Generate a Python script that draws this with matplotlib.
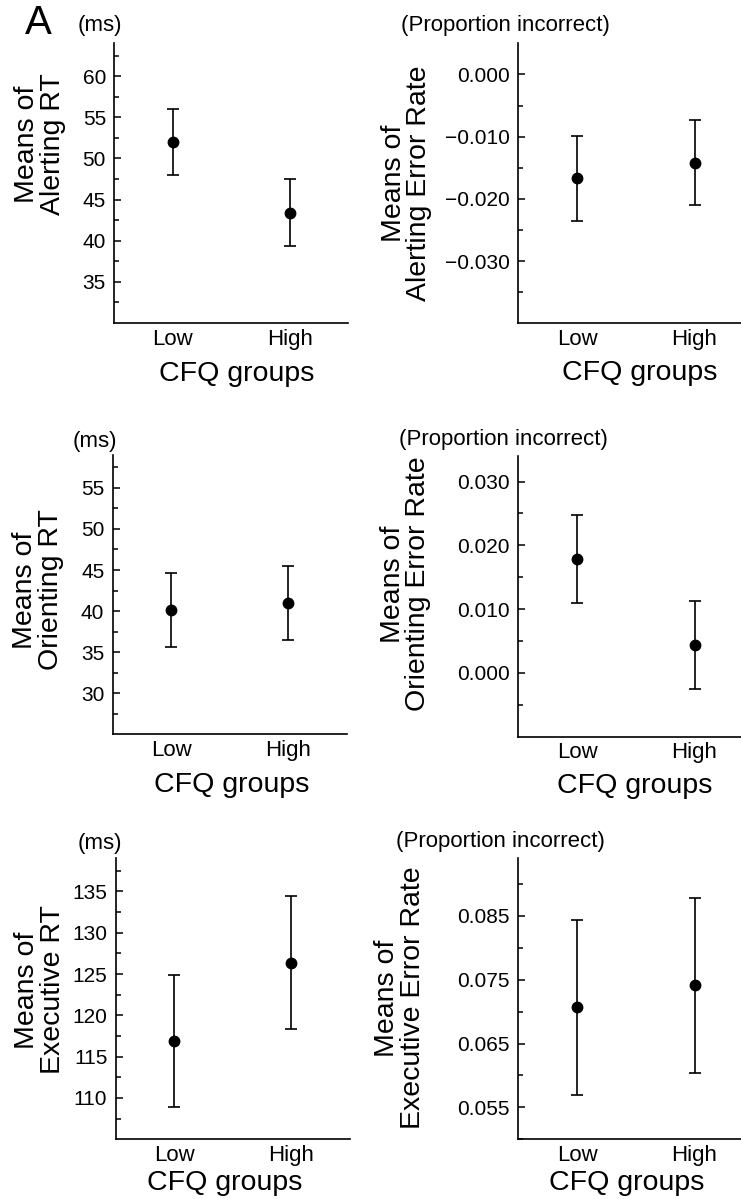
import numpy as np
import matplotlib
matplotlib.use("Agg")
import matplotlib.pyplot as plt

plt.rcParams['font.family'] = ['Liberation Sans', 'DejaVu Sans']

groups = ["Low", "High"]

# means and error bar half-widths per measure
alert_rt = [52.0, 43.4]
alert_rt_err = [4.05, 4.05]
alert_err = [-0.0167, -0.0142]
alert_err_err = [0.0068, 0.0068]
orient_rt = [40.1, 41.0]
orient_rt_err = [4.5, 4.5]
orient_err = [0.0178, 0.0044]
orient_err_err = [0.0069, 0.0069]
exec_rt = [116.9, 126.35]
exec_rt_err = [8.0, 8.05]
exec_err = [0.0707, 0.0741]
exec_err_err = [0.0137, 0.0137]

W, H = 741, 1199
fig = plt.figure(figsize=(W / 100, H / 100), dpi=100)


def make_axes(left, top, right, bottom):
    return fig.add_axes([left / W, 1 - bottom / H, (right - left) / W, (bottom - top) / H])


def fig_xy(x, y):
    return x / W, 1 - y / H


panels = [
    # axes box (px), data, ylim, major ticks, tick format, unit text, ylabel
    dict(box=(114.3, 43.3, 348, 323), y=alert_rt, e=alert_rt_err, ylim=(30, 64),
         major=[35, 40, 45, 50, 55, 60], step=2.5, fmt="%d",
         unit="(ms)", unit_xy=(99.5, 25), label="Means of\nAlerting RT",
         label_xy=(40, 144), xlab_xy=(237, 380.7)),
    dict(box=(518.3, 43.3, 753.3, 323.3), y=alert_err, e=alert_err_err, ylim=(-0.040, 0.005),
         major=[-0.03, -0.02, -0.01, 0.0], step=0.005, fmt="%.3f",
         unit="(Proportion incorrect)", unit_xy=(505, 25), label="Means of\nAlerting Error Rate",
         label_xy=(406.5, 183), xlab_xy=(640, 380)),
    dict(box=(112.7, 455, 346.7, 734.3), y=orient_rt, e=orient_rt_err, ylim=(25, 59),
         major=[30, 35, 40, 45, 50, 55], step=2.5, fmt="%d",
         unit="(ms)", unit_xy=(94.5, 441), label="Means of\nOrienting RT",
         label_xy=(38, 590), xlab_xy=(231.7, 791.7)),
    dict(box=(518.3, 456, 753.3, 736.7), y=orient_err, e=orient_err_err, ylim=(-0.010, 0.034),
         major=[0.0, 0.01, 0.02, 0.03], step=0.005, fmt="%.3f",
         unit="(Proportion incorrect)", unit_xy=(503.5, 440), label="Means of\nOrienting Error Rate",
         label_xy=(405, 584), xlab_xy=(635, 793)),
    dict(box=(115.7, 858.3, 350, 1139.3), y=exec_rt, e=exec_rt_err, ylim=(105, 139),
         major=[110, 115, 120, 125, 130, 135], step=2.5, fmt="%d",
         unit="(ms)", unit_xy=(99.5, 844), label="Means of\nExecutive RT",
         label_xy=(40, 990), xlab_xy=(225, 1190)),
    dict(box=(518.3, 858.3, 753.3, 1139.3), y=exec_err, e=exec_err_err, ylim=(0.050, 0.094),
         major=[0.055, 0.065, 0.075, 0.085], step=0.005, fmt="%.3f",
         unit="(Proportion incorrect)", unit_xy=(500.5, 842), label="Means of\nExecutive Error Rate",
         label_xy=(400, 998), xlab_xy=(626.7, 1190)),
]

for p in panels:
    ax = make_axes(*p["box"])
    x = np.arange(len(groups))
    ax.errorbar(x, p["y"], yerr=p["e"], fmt="o", color="black", ms=7.5,
                elinewidth=1.2, capsize=4.5, capthick=1.2)
    ax.set_xlim(-0.5, 1.5)
    ax.set_ylim(*p["ylim"])
    ax.set_xticks(x)
    ax.set_xticklabels(groups, fontsize=16)
    ax.set_yticks(p["major"])
    ax.set_yticklabels([(p["fmt"] % v).replace("-", "\u2212") for v in p["major"]], fontsize=15)
    lo, hi = p["ylim"]
    minor = np.arange(p["major"][0] - p["step"], hi + 1e-9, p["step"] * 2)
    ax.set_yticks([m for m in minor if lo <= m <= hi], minor=True)
    ax.tick_params(axis="y", which="major", direction="in", length=5.3, width=1.1, pad=6)
    ax.tick_params(axis="y", which="minor", direction="in", length=3.4, width=1.1)
    ax.tick_params(axis="x", length=0, pad=4)
    for s in ["top", "right"]:
        ax.spines[s].set_visible(False)
    for s in ["left", "bottom"]:
        ax.spines[s].set_linewidth(1.2)
    ax.patch.set_alpha(0)

    fig.text(*fig_xy(*p["unit_xy"]), p["unit"], fontsize=16, ha="center", va="center")
    fig.text(*fig_xy(*p["label_xy"]), p["label"], fontsize=20.5, rotation=90,
             ha="center", va="center", multialignment="center", linespacing=0.95)
    fig.text(*fig_xy(*p["xlab_xy"]), "CFQ groups", fontsize=20.5, ha="center", va="baseline")

fig.text(*fig_xy(38.5, 23), "A", fontsize=29, ha="center", va="center")

fig.savefig("out.png", dpi=100)
